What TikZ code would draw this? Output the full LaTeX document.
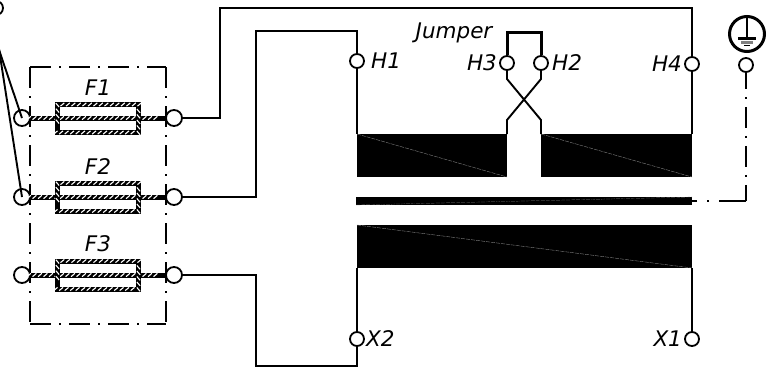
\documentclass[tikz,border=0pt]{standalone}
\usepackage{fontspec}
\setmainfont{DejaVu Sans}
\usetikzlibrary{positioning, decorations.pathreplacing}
\tikzset{
	wire/.style={line width=1.9pt},
	dashdot/.style={line width=1.9pt, dash pattern=on 21pt off 8pt on 2pt off 8pt},
	term/.style={circle, draw, fill=white, inner sep=0pt, minimum size=14pt, line width=1.8pt},
	bigterm/.style={term, minimum size=16pt},
	tag/.style={inner sep=0pt, font=\fontsize{21.5}{22}\selectfont\itshape},
	hatchline/.style={line width=5pt, postaction={decorate, draw=white, line width=1.1pt, decoration={border, segment length=5.5pt, amplitude=5pt, angle=-140, raise=1.6pt}}},
	fuse/.style={rectangle, draw, hatchline, inner sep=0pt, minimum width=81pt, minimum height=28pt},
	bar/.style={rectangle, fill=black, inner sep=0pt, outer sep=0pt},
	hair/.style={draw=gray, line width=0.4pt, dash pattern=on 4pt off 1pt}
}
\begin{document}
\begin{tikzpicture}[x=1pt, y=-1pt]
	\useasboundingbox (0,0) rectangle (771,372);
	
	\coordinate (boxtl) at (30,67);
	\coordinate (boxtr) at (166,67);
	\coordinate (boxbl) at (30,324);
	\coordinate (boxbr) at (166,324);
	\draw[dashdot] (boxtl) -- (boxtr) (boxtl) -- (boxbl) (boxtr) -- (boxbr) (boxbl) -- (boxbr);
	
	\node[term](neutral) at (-4,8){};
	\node[bigterm](f1l) at (22,118){};
	\node[bigterm](f2l) at (22,197){};
	\node[bigterm](f3l) at (22,275){};
	\node[bigterm](f1r) at (174,118){};
	\node[bigterm](f2r) at (174,197){};
	\node[bigterm](f3r) at (174,275){};
	
	\draw[hatchline] (f1l) -- (f1r);
	\draw[hatchline] (f2l) -- (f2r);
	\draw[hatchline] (f3l) -- (f3r);
	
	\node[fuse](f1) at (98,118.5){};
	\node[fuse](f2) at (98,197){};
	\node[fuse](f3) at (98,275){};
	\node[tag, above=6pt of f1](f1tag){F1};
	\node[tag, above=6pt of f2](f2tag){F2};
	\node[tag, above=6pt of f3](f3tag){F3};
	
	\node[term](h1) at (357,61){};
	\node[term](h3) at (507,63){};
	\node[term](h2) at (541,63){};
	\node[term](h4) at (692,64){};
	\node[term](x2) at (357,339){};
	\node[term](x1) at (692,339){};
	\node[term](gndterm) at (746,65){};
	\node[tag, right=6pt of h1](h1tag){H1};
	\node[tag, left=2pt of h3](h3tag){H3};
	\node[tag, right=3pt of h2](h2tag){H2};
	\node[tag, left=2pt of h4](h4tag){H4};
	\node[tag, right=1pt of x2](x2tag){X2};
	\node[tag, left=2pt of x1](x1tag){X1};
	\node[tag](jumper) at (454,33){Jumper};
	
	\node[bar, minimum width=150pt, minimum height=43pt](coilhl) at (432,155.5){};
	\node[bar, minimum width=151pt, minimum height=43pt](coilhr) at (616.5,155.5){};
	\node[bar, minimum width=336pt, minimum height=8pt](core) at (524,201){};
	\node[bar, minimum width=335pt, minimum height=43pt](coilx) at (524.5,246.5){};
	\draw[hair] (coilhl.north west) -- (coilhl.south east);
	\draw[hair] (coilhr.north west) -- (coilhr.south east);
	\draw[hair] (coilx.north west) -- (coilx.south east);
	\draw[hair, line width=0.2pt] (core.south west) -- (core.north east);
	
	\coordinate (topf1) at (220,8);
	\coordinate (topf2) at (256,31);
	\coordinate (botf3) at (256,366);
	\coordinate (jumptop) at (507,32);
	\coordinate (h3bend) at (507,79);
	\coordinate (h2bend) at (541,79);
	\coordinate (h3low) at (507,120);
	\coordinate (h2low) at (541,120);
	\coordinate (neutrala) at (-12,17);
	\coordinate (neutralb) at (-6,17);
	
	\draw[wire] (f1r) -| (topf1) -| (h4);
	\draw[wire] (h4) -- (coilhr.north east);
	\draw[wire] (f2r) -| (topf2) -| (h1);
	\draw[wire] (h1) -- (coilhl.north west);
	\draw[wire] (f3r) -| (botf3) -| (x2);
	\draw[wire] (x2) -- (coilx.south west);
	\draw[wire] (x1) -- (coilx.south east);
	\draw[wire] (h3) -- (h3bend) -- (h2low) -- (coilhr.north west);
	\draw[wire] (h2) -- (h2bend) -- (h3low) -- (coilhl.north east);
	\draw[line width=3pt] (h3) |- (jumptop) -| (h2);
	\draw[wire] (neutrala) -- (f1l.center);
	\draw[wire] (neutralb) -- (f2l.center);
	
	\node[circle, draw, inner sep=0pt, minimum size=35pt, line width=3pt](gnd) at (747,34){};
	\coordinate (gndbar) at (747,38.5);
	\draw[line width=2.2pt] (gnd.north) -- (gndbar);
	\draw[line width=2.2pt] ([xshift=-9pt]gndbar) -- ([xshift=9pt]gndbar);
	\draw[line width=2.2pt, gray] ([xshift=-6pt, yshift=-4pt]gndbar) -- ([xshift=6pt, yshift=-4pt]gndbar);
	\draw[line width=1.6pt] ([xshift=-3pt, yshift=-7pt]gndbar) -- ([xshift=3pt, yshift=-7pt]gndbar);
	
	\coordinate (gndcorner) at (746,201);
	\draw[dashdot, dash phase=5pt] (gndterm) -- (gndcorner);
	\draw[line width=1.9pt, dash pattern=on 27pt off 10pt on 2pt off 10pt] (gndcorner) -- (core.east);
\end{tikzpicture}
\end{document}
